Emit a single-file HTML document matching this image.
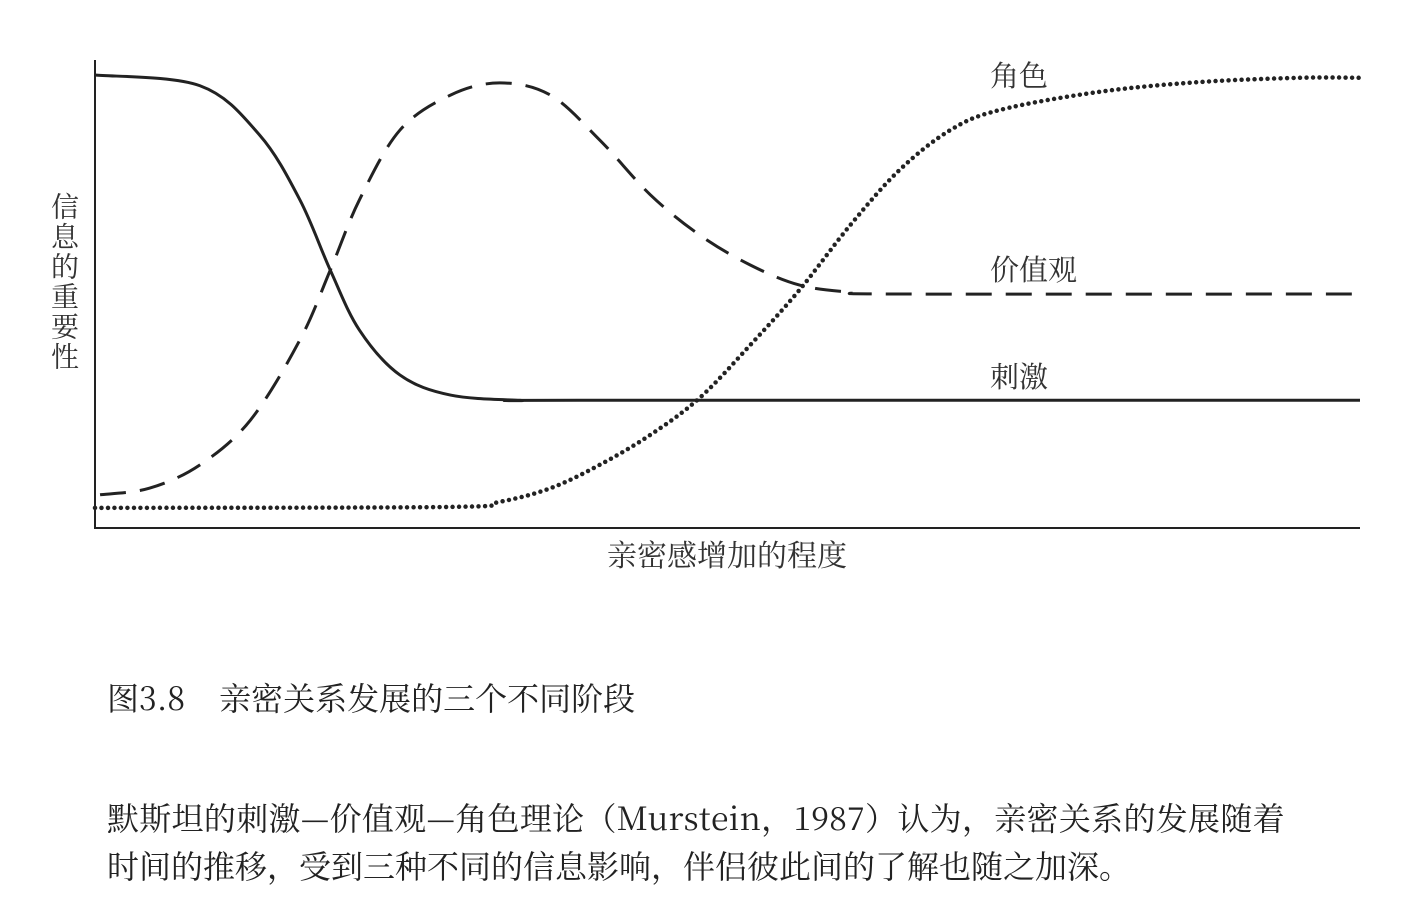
<!DOCTYPE html>
<html><head><meta charset="utf-8"><style>
body{margin:0;background:#fff;width:1406px;height:913px;overflow:hidden;position:relative;font-family:"Noto Serif CJK SC","Liberation Serif",serif;color:#222}
.t{position:absolute;white-space:nowrap;font-size:32px;line-height:1;letter-spacing:0}
</style></head><body>
<svg id="chart" width="1406" height="600" style="position:absolute;left:0;top:0">
<line x1="95" y1="60" x2="95" y2="528" stroke="#222" stroke-width="2"/>
<line x1="94" y1="528" x2="1360" y2="528" stroke="#222" stroke-width="2"/>
<g id="series"></g>
<text x="990" y="86" font-size="29" fill="#333" font-family="Noto Serif CJK SC,serif">角色</text>
<text x="990" y="280" font-size="29" fill="#333" font-family="Noto Serif CJK SC,serif">价值观</text>
<text x="990" y="387" font-size="29" fill="#333" font-family="Noto Serif CJK SC,serif">刺激</text>
<text x="727" y="566" text-anchor="middle" font-size="30" fill="#333" font-family="Noto Serif CJK SC,serif">亲密感增加的程度</text>
<text x="65" y="192" font-size="28" fill="#333" font-family="Noto Serif CJK SC,serif" style="writing-mode:vertical-rl;letter-spacing:2px">信息的重要性</text>
</svg>
<div class="t" style="left:107px;top:681px">图3.8<span style="margin-left:34px">亲密关系发展的三个不同阶段</span></div>
<div class="t" style="left:107px;top:801px;letter-spacing:0.3px">默斯坦的刺激—价值观—角色理论（Murstein，1987）认为，亲密关系的发展随着</div>
<div class="t" style="left:107px;top:849px">时间的推移，受到三种不同的信息影响，伴侣彼此间的了解也随之加深。</div>
<script>
const stimX=[0,8.3,13,16.2,18.6,20.9,24.1,28.1,33.6,38.3,100];
const stimY=[96.8,94.5,84,70.1,55.1,42.3,32.7,28.4,27.3,27.3,27.3];
const valX=[0.4,4.3,8.3,12.3,16.2,18.6,20.9,24.1,28.1,32,36,39.9,43.9,47.8,51.8,55.7,59.7,63.6,100];
const valY=[7.1,8.5,13.5,23.1,40.2,55.1,70.1,85,92.5,95.1,92.5,82.9,71.2,62.6,56.2,51.9,50.4,50,50];
const roleX=[0,28.1,32,36,39.9,43.9,47.8,51.8,55.7,59.7,63.6,67.6,71.5,79.4,87.4,95.3,100];
const roleY=[4.3,4.5,5.6,8.5,13.5,19.9,27.8,39.1,50.9,64.7,76.5,85,89.3,93.2,95.3,96.2,96.2];
const sx=v=>95+v*12.65, sy=v=>528-v*4.68;
function path(xs,ys){
  const p=xs.map((x,i)=>[sx(x),sy(ys[i])]);
  let d=`M${p[0][0]},${p[0][1]}`;
  for(let i=0;i<p.length-1;i++){
    const p0=p[Math.max(0,i-1)],p1=p[i],p2=p[i+1],p3=p[Math.min(p.length-1,i+2)];
    const c1=[p1[0]+(p2[0]-p0[0])/6,p1[1]+(p2[1]-p0[1])/6];
    const c2=[p2[0]-(p3[0]-p1[0])/6,p2[1]-(p3[1]-p1[1])/6];
    d+=`C${c1[0]},${c1[1]} ${c2[0]},${c2[1]} ${p2[0]},${p2[1]}`;
  }
  return d;
}
const g=document.getElementById('series');
function add(name,xs,ys,dash,w,cap){
  const el=document.createElementNS('http://www.w3.org/2000/svg','path');
  el.setAttribute('d',path(xs,ys));
  el.setAttribute('fill','none');el.setAttribute('stroke','#222');
  el.setAttribute('stroke-width',w);
  if(dash)el.setAttribute('stroke-dasharray',dash);
  el.setAttribute('stroke-linecap',cap);
  
  
  g.appendChild(el);
}
add('line-stimulus',stimX,stimY,null,3,'butt');
add('line-values',valX,valY,'26 14',3,'butt');
add('line-role',roleX,roleY,'0 6.5',4.5,'round');
</script>
</body></html>
